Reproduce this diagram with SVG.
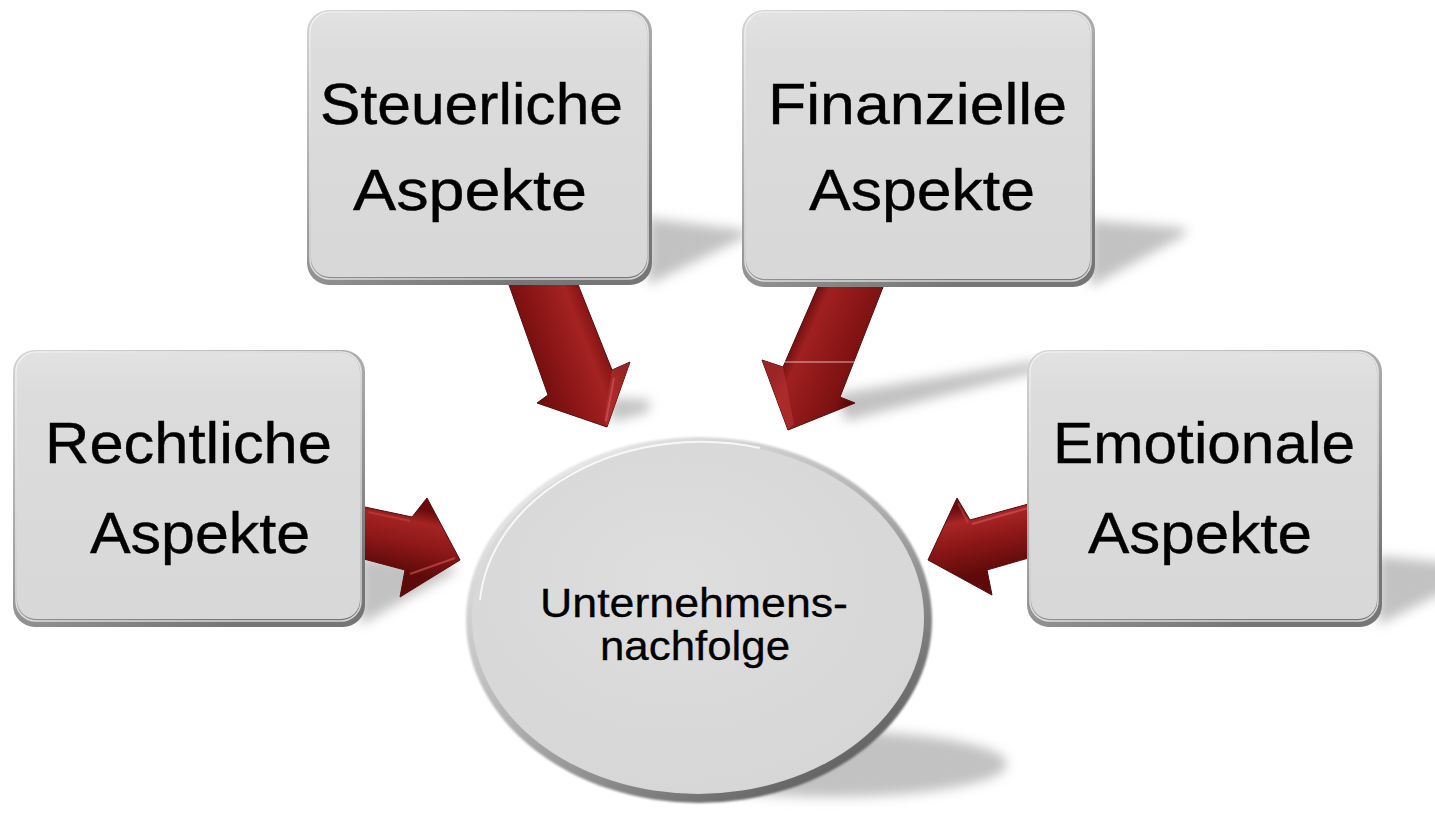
<svg xmlns="http://www.w3.org/2000/svg" width="1435" height="814" viewBox="0 0 1435 814">
  <defs>
    <filter id="blur" x="-30%" y="-50%" width="160%" height="200%">
      <feGaussianBlur stdDeviation="6"/>
    </filter>
    <filter id="soft" x="-5%" y="-5%" width="110%" height="110%">
      <feGaussianBlur stdDeviation="1.2"/>
    </filter>
    <linearGradient id="edgeGrad" x1="0" y1="0" x2="0.6" y2="1">
      <stop offset="0" stop-color="#d6d6d6"/>
      <stop offset="0.5" stop-color="#a8a8a8"/>
      <stop offset="1" stop-color="#767676"/>
    </linearGradient>
    <linearGradient id="faceGrad" x1="0" y1="0" x2="0" y2="1">
      <stop offset="0" stop-color="#e2e2e2"/>
      <stop offset="0.15" stop-color="#dcdcdc"/>
      <stop offset="1" stop-color="#d8d8d8"/>
    </linearGradient>
    <linearGradient id="ringGrad" x1="0.15" y1="0.05" x2="0.85" y2="0.95">
      <stop offset="0" stop-color="#ededed"/>
      <stop offset="0.45" stop-color="#b5b5b5"/>
      <stop offset="1" stop-color="#5a5a5a"/>
    </linearGradient>
    <radialGradient id="discGrad" cx="0.45" cy="0.4" r="0.65">
      <stop offset="0" stop-color="#dedede"/>
      <stop offset="1" stop-color="#d6d6d6"/>
    </radialGradient>
    <linearGradient id="g1" gradientUnits="userSpaceOnUse" x1="520" y1="345" x2="600" y2="314">
      <stop offset="0" stop-color="#6e0d0d"/>
      <stop offset="0.35" stop-color="#8c1616"/>
      <stop offset="0.72" stop-color="#a42222"/>
      <stop offset="0.9" stop-color="#861414"/>
      <stop offset="1" stop-color="#5a0808"/>
    </linearGradient>
    <linearGradient id="g2" gradientUnits="userSpaceOnUse" x1="798" y1="325" x2="870" y2="358">
      <stop offset="0" stop-color="#6a0c0c"/>
      <stop offset="0.18" stop-color="#a02020"/>
      <stop offset="0.5" stop-color="#8f1818"/>
      <stop offset="0.85" stop-color="#7a1111"/>
      <stop offset="1" stop-color="#5a0808"/>
    </linearGradient>
    <linearGradient id="g3" gradientUnits="userSpaceOnUse" x1="392" y1="503" x2="378" y2="567">
      <stop offset="0" stop-color="#6a0c0c"/>
      <stop offset="0.2" stop-color="#a42323"/>
      <stop offset="0.55" stop-color="#8e1818"/>
      <stop offset="1" stop-color="#5e0a0a"/>
    </linearGradient>
    <linearGradient id="g4" gradientUnits="userSpaceOnUse" x1="995" y1="500" x2="1010" y2="568">
      <stop offset="0" stop-color="#6a0c0c"/>
      <stop offset="0.2" stop-color="#a82626"/>
      <stop offset="0.5" stop-color="#901818"/>
      <stop offset="1" stop-color="#5e0a0a"/>
    </linearGradient>
  </defs>
  <style>
    .shadow { fill: #c2c2c2; filter: url(#blur); }
    .edge { fill: url(#edgeGrad); }
    .face { fill: url(#faceGrad); }
    .hl { fill: none; stroke: #ffffff; stroke-opacity: 0.7; stroke-width: 1.5; }
    .arrow { stroke: #5a0a0a; stroke-width: 1; stroke-linejoin: round; }
    .bevel { fill: #b03030; opacity: 0.7; }
    .label { font-family: "Liberation Sans", Arial, sans-serif; font-size: 57px; fill: #000000; stroke: #000000; stroke-width: 0.4; }
    .small { font-family: "Liberation Sans", Arial, sans-serif; font-size: 40px; fill: #000000; stroke: #000000; stroke-width: 0.3; }
  </style>
  <rect width="1435" height="814" fill="#ffffff"/>

  <g id="shadows">
    <polygon class="shadow" points="648,218 745,230 745,237 648,285"/>
    <polygon class="shadow" points="1090,220 1185,228 1185,235 1090,287"/>
    <polygon class="shadow" points="360,556 455,566 455,572 360,625"/>
    <polygon class="shadow" points="1378,556 1480,566 1480,574 1378,625"/>
    <polygon class="shadow" points="836,394 1035,361 1035,372 846,421"/>
    <polygon class="shadow" points="608,398 650,400 648,412 612,422"/>
    <ellipse class="shadow" cx="830" cy="764" rx="177" ry="33"/>
  </g>

  <g id="connectors">
    <g id="arrow-steuer">
      <polygon class="arrow" fill="url(#g1)" points="508,282 577,282 612,370 630,362 607,427 537,403 548,395"/>
      <polygon class="bevel" points="612,370 630,362 607,427 604,420"/>
      <polyline points="614,378 606,421" fill="none" stroke="#d65a5a" stroke-width="2" stroke-opacity="0.6"/>
    </g>
    <g id="arrow-finanz">
      <polygon class="arrow" fill="url(#g2)" points="820,282 885,282 840,397 855,403 788,430 762,360 783,367"/>
      <polygon class="bevel" points="762,360 783,367 794,424 788,430"/>
      <line x1="783" y1="362" x2="857" y2="362" stroke="#f4dede" stroke-width="1.2" stroke-opacity="0.8"/>
    </g>
    <g id="arrow-recht">
      <polygon class="arrow" fill="url(#g3)" points="360,506 412,517 427,498 460,560 400,597 405,570 360,558"/>
      <polyline points="410,574 455,558" fill="none" stroke="#d65a5a" stroke-width="2" stroke-opacity="0.6"/>
      <polyline points="368,512 410,521" fill="none" stroke="#c84646" stroke-width="2" stroke-opacity="0.5"/>
    </g>
    <g id="arrow-emotional">
      <polygon class="arrow" fill="url(#g4)" points="1032,503 1032,557 987,570 992,595 928,560 957,498 970,520"/>
      <polyline points="1028,508 972,524" fill="none" stroke="#d65a5a" stroke-width="2" stroke-opacity="0.6"/>
      <polyline points="958,503 968,523" fill="none" stroke="#c84646" stroke-width="2" stroke-opacity="0.5"/>
    </g>
  </g>

  <g id="node-steuerliche">
    <rect class="edge" x="307" y="10" width="345" height="275" rx="22"/>
    <rect class="face" x="311" y="13" width="336" height="264" rx="19"/>
    <rect class="hl" x="310" y="12" width="338" height="267" rx="20"/>
    <text class="label" x="320" y="124" textLength="303" lengthAdjust="spacingAndGlyphs">Steuerliche</text>
    <text class="label" x="353" y="210" textLength="234" lengthAdjust="spacingAndGlyphs">Aspekte</text>
  </g>

  <g id="node-finanzielle">
    <rect class="edge" x="742" y="10" width="353" height="277" rx="22"/>
    <rect class="face" x="746" y="13" width="344" height="266" rx="19"/>
    <rect class="hl" x="745" y="12" width="346" height="269" rx="20"/>
    <text class="label" x="768" y="124" textLength="299" lengthAdjust="spacingAndGlyphs">Finanzielle</text>
    <text class="label" x="809" y="210" textLength="226" lengthAdjust="spacingAndGlyphs">Aspekte</text>
  </g>

  <g id="node-rechtliche">
    <rect class="edge" x="13" y="350" width="352" height="277" rx="22"/>
    <rect class="face" x="17" y="353" width="343" height="266" rx="19"/>
    <rect class="hl" x="16" y="352" width="345" height="269" rx="20"/>
    <text class="label" x="45" y="463" textLength="287" lengthAdjust="spacingAndGlyphs">Rechtliche</text>
    <text class="label" x="90" y="553" textLength="220" lengthAdjust="spacingAndGlyphs">Aspekte</text>
  </g>

  <g id="node-emotionale">
    <rect class="edge" x="1027" y="350" width="355" height="277" rx="22"/>
    <rect class="face" x="1031" y="353" width="346" height="266" rx="19"/>
    <rect class="hl" x="1030" y="352" width="348" height="269" rx="20"/>
    <text class="label" x="1053" y="463" textLength="302" lengthAdjust="spacingAndGlyphs">Emotionale</text>
    <text class="label" x="1088" y="553" textLength="224" lengthAdjust="spacingAndGlyphs">Aspekte</text>
  </g>

  <g id="node-unternehmensnachfolge">
    <ellipse cx="699" cy="620" rx="233" ry="183" fill="url(#ringGrad)" filter="url(#soft)"/>
    <ellipse cx="698" cy="618" rx="226" ry="176" fill="url(#discGrad)"/>
    <path d="M 480 600 A 222 172 0 0 1 760 448" fill="none" stroke="#ffffff" stroke-opacity="0.8" stroke-width="2"/>
    <text class="small" x="540" y="617" textLength="308" lengthAdjust="spacingAndGlyphs">Unternehmens-</text>
    <text class="small" x="600" y="660" textLength="190" lengthAdjust="spacingAndGlyphs">nachfolge</text>
  </g>
</svg>
